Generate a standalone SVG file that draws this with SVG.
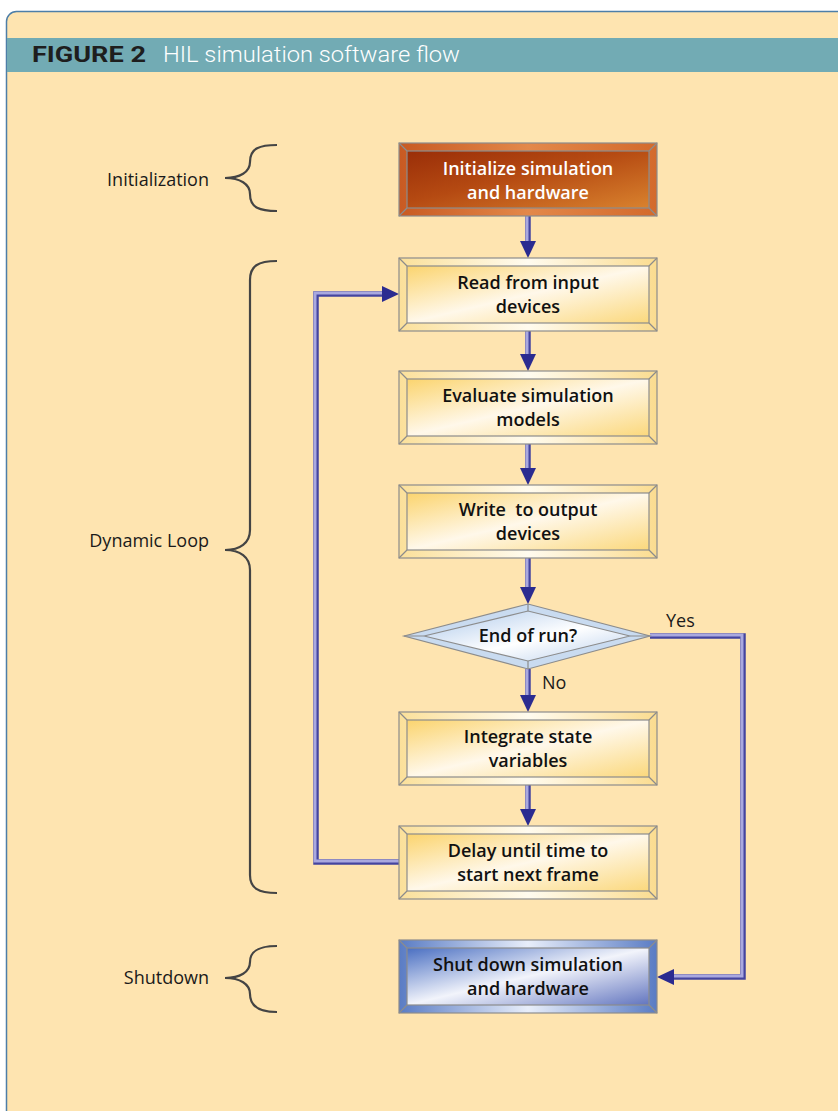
<svg xmlns="http://www.w3.org/2000/svg" width="838" height="1111" viewBox="0 0 838 1111">
<style>
.lbl{font-family:"Open Sans","Liberation Sans",sans-serif;font-size:18px;fill:#1a1a1a}
.bt{font-family:"Open Sans","Liberation Sans",sans-serif;font-size:18px;font-weight:600;fill:#111;text-anchor:middle}
.wt{fill:#ffffff}
.edge{stroke:#8c8c8c;stroke-width:1.2}
.brace{fill:none;stroke:#444;stroke-width:2.2}
.wd{fill:none;stroke:#44449f;stroke-width:5.5}
.wl{fill:none;stroke:#a9a8df;stroke-width:3}
</style>
<defs>
<linearGradient id="gInit" x1="0" y1="0" x2="1" y2="1">
<stop offset="0" stop-color="#9a2e08"/><stop offset="0.45" stop-color="#b54a12"/><stop offset="1" stop-color="#d9822e"/>
</linearGradient>
<linearGradient id="gInitF" x1="0" y1="0" x2="1" y2="0">
<stop offset="0" stop-color="#c85a22"/><stop offset="0.5" stop-color="#e3884a"/><stop offset="1" stop-color="#d36a2c"/>
</linearGradient>
<linearGradient id="gY" x1="0" y1="0" x2="1" y2="1">
<stop offset="0" stop-color="#fbd46e"/><stop offset="0.5" stop-color="#fff8ea"/><stop offset="1" stop-color="#fbd87c"/>
</linearGradient>
<linearGradient id="gYF" x1="0" y1="0" x2="1" y2="0">
<stop offset="0" stop-color="#fbe09a"/><stop offset="0.5" stop-color="#fffbef"/><stop offset="1" stop-color="#fbdc90"/>
</linearGradient>
<linearGradient id="gB" x1="0" y1="0" x2="1" y2="1">
<stop offset="0" stop-color="#4a6fc2"/><stop offset="0.5" stop-color="#f2f4fb"/><stop offset="1" stop-color="#6275bf"/>
</linearGradient>
<linearGradient id="gBF" x1="0" y1="0" x2="1" y2="0">
<stop offset="0" stop-color="#5a7cc4"/><stop offset="0.5" stop-color="#e8eefa"/><stop offset="1" stop-color="#5a7cc4"/>
</linearGradient>
<linearGradient id="gD" x1="0" y1="0" x2="1" y2="1">
<stop offset="0" stop-color="#a9c6ea"/><stop offset="0.55" stop-color="#ffffff"/><stop offset="1" stop-color="#b5cdec"/>
</linearGradient>
<marker id="ah" viewBox="0 0 17 16" refX="0" refY="8" markerWidth="17" markerHeight="16" markerUnits="userSpaceOnUse" orient="auto">
<path d="M0,0 L17,8 L0,16 Z" fill="#2b2b90"/>
</marker>
</defs>
<rect width="838" height="1111" fill="#ffffff"/>
<rect x="6.5" y="11.5" width="860" height="1112" rx="10" fill="#fee4b0" stroke="#4d7ea8" stroke-width="1.5"/>
<rect x="7" y="38" width="831" height="34" fill="#72abb4"/>
<text x="32" y="62" font-family="Roboto,'Liberation Sans',sans-serif" font-size="22" font-weight="bold" fill="#1e1e1e" textLength="114" lengthAdjust="spacingAndGlyphs">FIGURE 2</text>
<text x="163" y="62" font-family="Roboto,'Liberation Sans',sans-serif" font-size="22" font-weight="300" fill="#ffffff" textLength="297" lengthAdjust="spacingAndGlyphs">HIL simulation software flow</text>

<g id="braces">
<text class="lbl" x="209" y="186" text-anchor="end">Initialization</text>
<path class="brace" d="M277,145 C260,145 250,148 250,162 C250,172 240,178 225,178 C240,178 250,184 250,194 C250,208 260,211 277,211"/>
<text class="lbl" x="209" y="547" text-anchor="end">Dynamic Loop</text>
<path class="brace" d="M277,261 C258,261 250,266 250,280 V530 C250,543 240,550 225,550 C240,550 250,557 250,570 V875 C250,888 258,893 277,893"/>
<text class="lbl" x="209" y="984" text-anchor="end">Shutdown</text>
<path class="brace" d="M277,946 C260,946 250,950 250,962 C250,972 240,978 225,978 C240,978 250,984 250,994 C250,1007 260,1012 277,1012"/>
</g>

<g id="connectors">
<path class="wd" marker-end="url(#ah)" d="M528,216 V241"/>
<path class="wl" d="M527,216 V241"/>
<path class="wd" marker-end="url(#ah)" d="M528,331 V354"/>
<path class="wl" d="M527,331 V354"/>
<path class="wd" marker-end="url(#ah)" d="M528,444 V468"/>
<path class="wl" d="M527,444 V468"/>
<path class="wd" marker-end="url(#ah)" d="M528,558 V587"/>
<path class="wl" d="M527,558 V587"/>
<path class="wd" marker-end="url(#ah)" d="M528,669 V695"/>
<path class="wl" d="M527,669 V695"/>
<path class="wd" marker-end="url(#ah)" d="M528,785 V809"/>
<path class="wl" d="M527,785 V809"/>
<path class="wd" marker-end="url(#ah)" d="M399,862 H316 V294 H382"/>
<path class="wl" d="M399,861 H315 V293 H382"/>
<path class="wd" marker-end="url(#ah)" d="M650,636 H743 V977 H674"/>
<path class="wl" d="M650,635 H742 V976 H674"/>
<text class="lbl" x="666" y="627">Yes</text>
<text class="lbl" x="542" y="689">No</text>
</g>

<g id="init">
<rect class="edge" x="399" y="143" width="258" height="73" fill="url(#gInitF)"/>
<rect class="edge" x="407" y="151" width="242" height="57" fill="url(#gInit)"/>
<path class="edge" d="M399,143 L407,151 M657,143 L649,151 M399,216 L407,208 M657,216 L649,208"/>
<text class="bt wt" x="528" y="175">Initialize simulation</text>
<text class="bt wt" x="528" y="199">and hardware</text>
</g>

<g id="read">
<rect class="edge" x="399" y="258" width="258" height="73" fill="url(#gYF)"/>
<rect class="edge" x="407" y="266" width="242" height="57" fill="url(#gY)"/>
<path class="edge" d="M399,258 L407,266 M657,258 L649,266 M399,331 L407,323 M657,331 L649,323"/>
<text class="bt" x="528" y="289">Read from input</text>
<text class="bt" x="528" y="313">devices</text>
</g>

<g id="evaluate">
<rect class="edge" x="399" y="371" width="258" height="73" fill="url(#gYF)"/>
<rect class="edge" x="407" y="379" width="242" height="57" fill="url(#gY)"/>
<path class="edge" d="M399,371 L407,379 M657,371 L649,379 M399,444 L407,436 M657,444 L649,436"/>
<text class="bt" x="528" y="402">Evaluate simulation</text>
<text class="bt" x="528" y="426">models</text>
</g>

<g id="write">
<rect class="edge" x="399" y="485" width="258" height="73" fill="url(#gYF)"/>
<rect class="edge" x="407" y="493" width="242" height="57" fill="url(#gY)"/>
<path class="edge" d="M399,485 L407,493 M657,485 L649,493 M399,558 L407,550 M657,558 L649,550"/>
<text class="bt" x="528" y="516" xml:space="preserve">Write  to output</text>
<text class="bt" x="528" y="540">devices</text>
</g>

<g id="decision">
<polygon class="edge" points="404,636 528,604 650,636 528,669" fill="#c9dbf0"/>
<polygon class="edge" points="424,636 528,611 630,636 528,661" fill="url(#gD)"/>
<path class="edge" d="M404,636 L424,636 M528,604 L528,611 M650,636 L630,636 M528,669 L528,661"/>
<text class="bt" x="528" y="642">End of run?</text>
</g>

<g id="integrate">
<rect class="edge" x="399" y="712" width="258" height="73" fill="url(#gYF)"/>
<rect class="edge" x="407" y="720" width="242" height="57" fill="url(#gY)"/>
<path class="edge" d="M399,712 L407,720 M657,712 L649,720 M399,785 L407,777 M657,785 L649,777"/>
<text class="bt" x="528" y="743">Integrate state</text>
<text class="bt" x="528" y="767">variables</text>
</g>

<g id="delay">
<rect class="edge" x="399" y="826" width="258" height="73" fill="url(#gYF)"/>
<rect class="edge" x="407" y="834" width="242" height="57" fill="url(#gY)"/>
<path class="edge" d="M399,826 L407,834 M657,826 L649,834 M399,899 L407,891 M657,899 L649,891"/>
<text class="bt" x="528" y="857">Delay until time to</text>
<text class="bt" x="528" y="881">start next frame</text>
</g>

<g id="shutdown">
<rect class="edge" x="399" y="940" width="258" height="73" fill="url(#gBF)"/>
<rect class="edge" x="407" y="948" width="242" height="57" fill="url(#gB)"/>
<path class="edge" d="M399,940 L407,948 M657,940 L649,948 M399,1013 L407,1005 M657,1013 L649,1005"/>
<text class="bt" x="528" y="971">Shut down simulation</text>
<text class="bt" x="528" y="995">and hardware</text>
</g>
</svg>
